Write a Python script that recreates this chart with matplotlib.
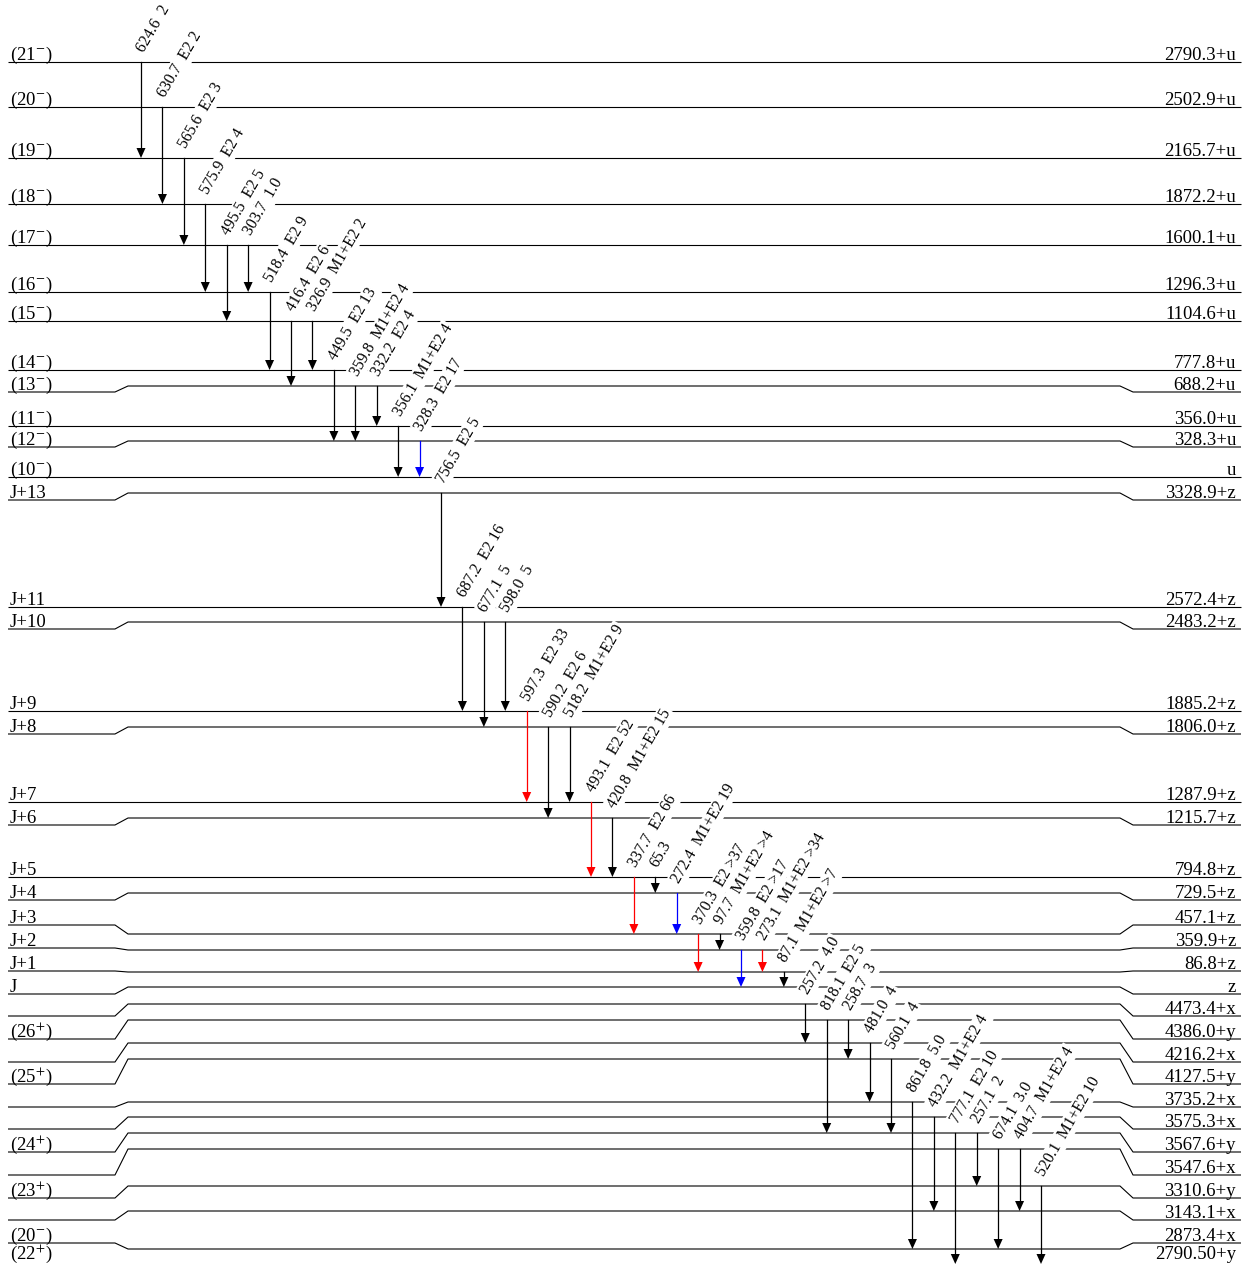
import matplotlib.pyplot as plt

plt.rcParams['font.family'] = ['Liberation Serif', 'DejaVu Serif']
plt.rcParams['mathtext.fontset'] = 'stix'

# levels, top to bottom
spins = ['(21$^{-}$)', '(20$^{-}$)', '(19$^{-}$)', '(18$^{-}$)', '(17$^{-}$)',
         '(16$^{-}$)', '(15$^{-}$)', '(14$^{-}$)', '(13$^{-}$)', '(11$^{-}$)',
         '(12$^{-}$)', '(10$^{-}$)', 'J+13', 'J+11', 'J+10', 'J+9', 'J+8',
         'J+7', 'J+6', 'J+5', 'J+4', 'J+3', 'J+2', 'J+1', 'J', '',
         '(26$^{+}$)', '', '(25$^{+}$)', '', '', '(24$^{+}$)', '',
         '(23$^{+}$)', '', '(20$^{-}$)', '(22$^{+}$)']
energies = ['2790.3+u', '2502.9+u', '2165.7+u', '1872.2+u', '1600.1+u',
            '1296.3+u', '1104.6+u', '777.8+u', '688.2+u', '356.0+u',
            '328.3+u', 'u', '3328.9+z', '2572.4+z', '2483.2+z', '1885.2+z',
            '1806.0+z', '1287.9+z', '1215.7+z', '794.8+z', '729.5+z',
            '457.1+z', '359.9+z', '86.8+z', 'z', '4473.4+x', '4386.0+y',
            '4216.2+x', '4127.5+y', '3735.2+x', '3575.3+x', '3567.6+y',
            '3547.6+x', '3310.6+y', '3143.1+x', '2873.4+x', '2790.50+y']

# drawing rows: where the side labels sit, and where the middle part of the level runs
label_rows = [62, 107, 158, 204, 245, 292, 321, 370, 392, 426, 447, 477, 500,
              607, 629, 711, 734, 802, 825, 877, 900, 925, 948, 971, 994,
              1016, 1039, 1062, 1084, 1107, 1129, 1152, 1175, 1198, 1220,
              1243, 1266]
line_rows = [62, 107, 158, 204, 245, 292, 321, 370, 386, 426, 441, 477, 493,
             607, 622, 711, 727, 802, 818, 877, 893, 934, 950, 972, 987,
             1004, 1020, 1043, 1059, 1102, 1117, 1133, 1149, 1186, 1211,
             1249, 1266]

# gamma transitions, left to right
gamma_energy = ['624.6', '630.7', '565.6', '575.9', '495.5', '303.7', '518.4',
                '416.4', '326.9', '449.5', '359.8', '332.2', '356.1', '328.3',
                '756.5', '687.2', '677.1', '598.0', '597.3', '590.2', '518.2',
                '493.1', '420.8', '337.7', '65.3', '272.4', '370.3', '97.7',
                '359.8', '273.1', '87.1', '257.2', '818.1', '258.7', '481.0',
                '560.1', '861.8', '432.2', '777.1', '257.1', '674.1', '404.7',
                '520.1']
gamma_mult = ['', 'E2', 'E2', 'E2', 'E2', '', 'E2', 'E2', 'M1+E2', 'E2',
              'M1+E2', 'E2', 'M1+E2', 'E2', 'E2', 'E2', '', '', 'E2', 'E2',
              'M1+E2', 'E2', 'M1+E2', 'E2', '', 'M1+E2', 'E2', 'M1+E2', 'E2',
              'M1+E2', 'M1+E2', '', 'E2', '', '', '', '', 'M1+E2', 'E2', '',
              '', 'M1+E2', 'M1+E2']
gamma_intensity = ['2', '2', '3', '4', '5', '1.0', '9', '6', '2', '13', '4',
                   '4', '4', '17', '5', '16', '5', '5', '33', '6', '9', '52',
                   '15', '66', '', '19', '>37', '>4', '>17', '>34', '>7',
                   '4.0', '5', '3', '4', '4', '5.0', '4', '10', '2', '3.0',
                   '4', '10']
gamma_from = [0, 1, 2, 3, 4, 4, 5, 6, 6, 7, 8, 8, 9, 10, 12, 13, 14, 14, 15,
              16, 16, 17, 18, 19, 19, 20, 21, 21, 22, 22, 23, 25, 26, 26, 27,
              28, 29, 30, 31, 31, 32, 32, 33]
gamma_to = [2, 3, 4, 5, 6, 5, 7, 8, 7, 10, 10, 9, 11, 11, 13, 15, 16, 15, 17,
            18, 17, 19, 19, 21, 20, 21, 23, 22, 24, 23, 24, 27, 31, 28, 29,
            31, 35, 34, 36, 33, 35, 34, 36]
red_lines = [18, 21, 23, 26, 29]
blue_lines = [13, 25, 28]

fig = plt.figure(figsize=(12.51, 12.65), dpi=100)
ax = fig.add_axes([0, 0, 1, 1])
ax.set_xlim(0, 1251)
ax.set_ylim(1265, 0)
ax.axis('off')

x_left, x_bend, x_main, x_main_end, x_rbend, x_right = 8, 115, 128, 1120, 1133, 1241

for spin, energy, lr, mr in zip(spins, energies, label_rows, line_rows):
    ax.plot([x_left, x_bend, x_main, x_main_end, x_rbend, x_right],
            [lr, lr, mr, mr, lr, lr], color='black', lw=0.8, zorder=1,
            solid_capstyle='butt')
    # the lowest level runs along the bottom edge; keep its labels inside
    ty = min(lr - 2, 1259)
    ax.text(10, ty, spin, fontsize=13.5, ha='left', va='baseline')
    ax.text(1236, ty, energy, fontsize=13.5, ha='right', va='baseline')

x0, dx = 141, 900 / 42
head_len, head_half = 10, 4.5
for i, (e, m, s, a, b) in enumerate(zip(gamma_energy, gamma_mult, gamma_intensity,
                                         gamma_from, gamma_to)):
    x = x0 + i * dx
    y1, y2 = line_rows[a], line_rows[b]
    if b == len(line_rows) - 1:
        y2 -= 2
    c = 'red' if i in red_lines else 'blue' if i in blue_lines else 'black'
    ax.plot([x, x], [y1, y2 - head_len], color=c, lw=0.9, zorder=3)
    ax.fill([x - head_half, x + head_half, x], [y2 - head_len, y2 - head_len, y2],
            color=c, lw=0, zorder=3)
    label = e + '  ' + (m + ' ' if m else '') + s
    ax.text(x + 6, y1 - 7, label.strip(), fontsize=11.3, rotation=60,
            rotation_mode='anchor', ha='left', va='bottom', zorder=2,
            bbox=dict(facecolor='white', edgecolor='none', pad=1.0))

fig.savefig('out.png', dpi=100)
